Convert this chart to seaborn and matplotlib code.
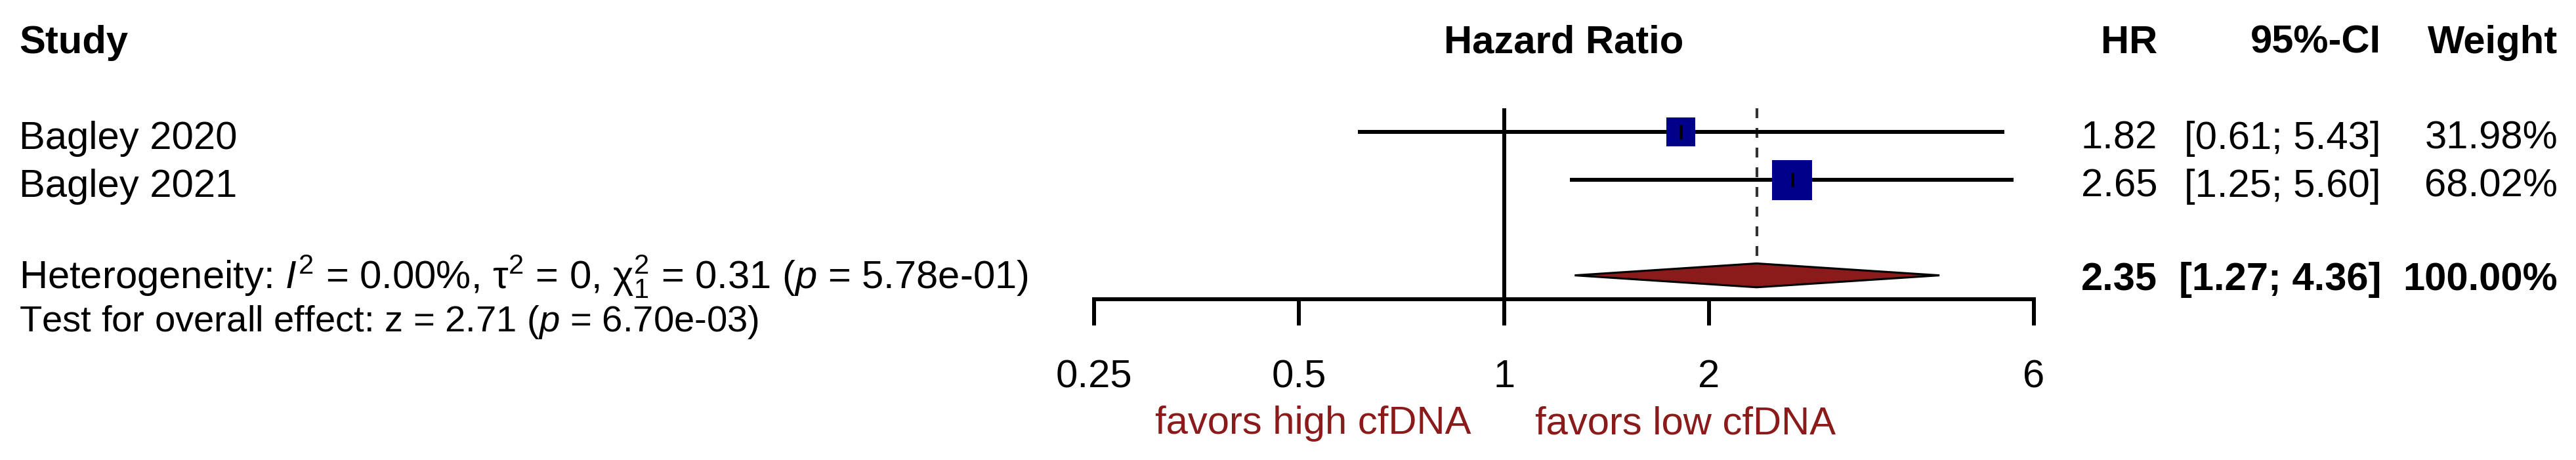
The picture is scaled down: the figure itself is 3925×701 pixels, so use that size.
import numpy as np
import pandas as pd
import matplotlib
matplotlib.use("Agg")
import matplotlib.pyplot as plt
import matplotlib.transforms as mtrans
import seaborn as sns

# data
studies = ["Bagley 2020", "Bagley 2021"]
hr = [1.82, 2.65]
ci_low = [0.61, 1.25]
ci_high = [5.43, 5.60]
weights = [31.98, 68.02]
hr_text = ["1.82", "2.65"]
ci_text = ["[0.61; 5.43]", "[1.25; 5.60]"]
weight_text = ["31.98%", "68.02%"]

pooled_hr = 2.35
pooled_low = 1.27
pooled_high = 4.36
pooled_text = ["2.35", "[1.27; 4.36]", "100.00%"]

het_label = r"Heterogeneity: $I^2$ = 0.00%, τ$^2$ = 0, χ$^2_1$ = 0.31 ($p$ = 5.78e-01)"
test_label = r"Test for overall effect: z = 2.71 ($p$ = 6.70e-03)"

x_ticks = [0.25, 0.5, 1, 2, 6]
x_tick_labels = ["0.25", "0.5", "1", "2", "6"]
left_label = "favors high cfDNA"
right_label = "favors low cfDNA"

df = pd.DataFrame({"study": studies, "hr": hr, "low": ci_low, "high": ci_high,
                   "weight": weights, "row": np.arange(len(studies))})

# figure setup
W, H = 3925, 701
sns.set_theme(style="white")
plt.rcParams["font.family"] = ["Liberation Sans", "DejaVu Sans"]
plt.rcParams["text.color"] = "black"
plt.rcParams["xtick.color"] = "black"
plt.rcParams["axes.labelcolor"] = "black"
plt.rcParams["mathtext.fontset"] = "custom"
plt.rcParams["mathtext.rm"] = "Liberation Sans"
plt.rcParams["mathtext.it"] = "Liberation Sans:italic"
plt.rcParams["mathtext.bf"] = "Liberation Sans:bold"

FS = 43
DARKRED = "#8B1A1A"
LW = 4.3

fig = plt.figure(figsize=(W / 100, H / 100), dpi=100)
ax = fig.add_axes([1667 / W, 1 - 456 / H, (3099 - 1667) / W, (456 - 165) / H])

# confidence intervals
ax.hlines(df["row"], df["low"], df["high"], color="black", lw=LW, zorder=2)

# study boxes sized by weight
sns.scatterplot(data=df, x="hr", y="row", size="weight", sizes=(1004, 1928),
                marker="s", color="darkblue", linewidth=0, legend=False,
                ax=ax, zorder=3)
ax.scatter(df["hr"], df["row"], marker="|", s=256, color="black",
           linewidths=3.5, zorder=4)

# reference line and pooled estimate
ax.axvline(1, color="black", lw=LW, zorder=1)
ax.vlines(pooled_hr, -0.5, 2.7, color="#333333", lw=3,
          linestyles=(0, (3.6, 3.6)), zorder=1)
ax.fill([pooled_low, pooled_hr, pooled_high, pooled_hr],
        [3, 2.75, 3, 3.25], facecolor=DARKRED, edgecolor="black",
        lw=2.2, zorder=3)

ax.set_xscale("log")
ax.set_xlim(x_ticks[0], x_ticks[-1])
ax.set_ylim(3.5, -0.5)
ax.set_xticks(x_ticks)
ax.set_xticklabels(x_tick_labels)
ax.minorticks_off()
ax.set_yticks([])
ax.set_xlabel("")
ax.set_ylabel("")
for side in ["left", "top", "right"]:
    ax.spines[side].set_visible(False)
ax.spines["bottom"].set_linewidth(LW)
ax.spines["bottom"].set_color("black")
ax.tick_params(axis="x", bottom=True, direction="out", length=28.8, width=LW,
               pad=37, labelsize=FS, colors="black")
ax.patch.set_alpha(0)

# text columns
row_tr = mtrans.blended_transform_factory(fig.transFigure, ax.transData)
head_y = -1.66
x_study = 29 / W
x_hr = 3287 / W
x_ci = 3628 / W
x_w = 3897 / W

ax.text(x_study, head_y, "Study", transform=row_tr, fontsize=FS,
        fontweight="bold", va="baseline", ha="left")
ax.text(0.5, head_y, "Hazard Ratio",
        transform=mtrans.blended_transform_factory(ax.transAxes, ax.transData),
        fontsize=FS, fontweight="bold", va="baseline", ha="center")
ax.text(x_hr, head_y, "HR", transform=row_tr, fontsize=FS,
        fontweight="bold", va="baseline", ha="right")
ax.text(x_ci, head_y, "95%-CI", transform=row_tr, fontsize=FS,
        fontweight="bold", va="baseline", ha="right")
ax.text(x_w, head_y, "Weight", transform=row_tr, fontsize=FS,
        fontweight="bold", va="baseline", ha="right")

for i in range(len(studies)):
    yb = i + 0.35
    ax.text(x_study, yb, studies[i], transform=row_tr, fontsize=FS,
            va="baseline", ha="left")
    ax.text(x_hr, yb, hr_text[i], transform=row_tr, fontsize=FS,
            va="baseline", ha="right")
    ax.text(x_ci, yb, ci_text[i], transform=row_tr, fontsize=FS,
            va="baseline", ha="right")
    ax.text(x_w, yb, weight_text[i], transform=row_tr, fontsize=FS,
            va="baseline", ha="right")

ax.text(x_study, 3.28, het_label, transform=row_tr, fontsize=FS,
        va="baseline", ha="left")
ax.text(x_study, 4.17, test_label, transform=row_tr, fontsize=40.5,
        va="baseline", ha="left")
for xx, t in zip([x_hr, x_ci, x_w], pooled_text):
    ax.text(xx, 3.31, t, transform=row_tr, fontsize=FS, fontweight="bold",
            va="baseline", ha="right")

# favors labels under the axis
fav_tr = mtrans.blended_transform_factory(ax.transData, fig.transFigure)
ax.annotate(left_label, xy=(1, 1 - 661 / H), xycoords=fav_tr,
            xytext=(-36, 0), textcoords="offset points", fontsize=FS,
            color=DARKRED, ha="right", va="baseline")
ax.annotate(right_label, xy=(1, 1 - 661 / H), xycoords=fav_tr,
            xytext=(34, 0), textcoords="offset points", fontsize=FS,
            color=DARKRED, ha="left", va="baseline")

fig.savefig("out.png", dpi=100, facecolor="white")
